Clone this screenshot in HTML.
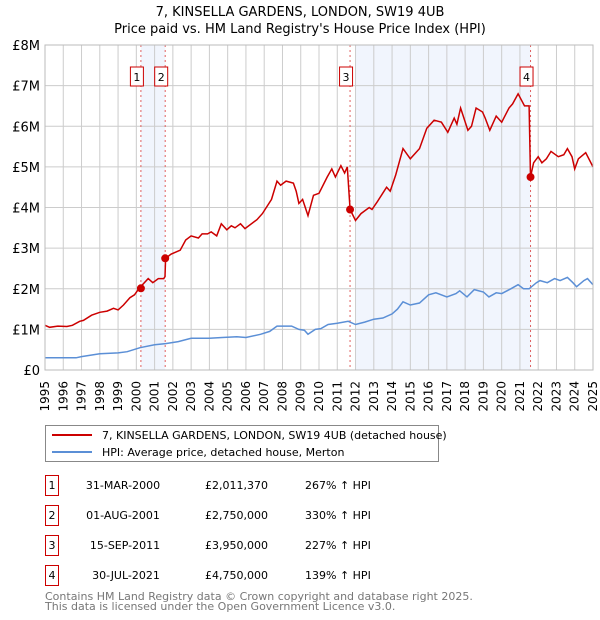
<!DOCTYPE html>
<html><head><meta charset="utf-8"><style>
body{margin:0;background:#fff;font-family:"DejaVu Sans","Liberation Sans",sans-serif;}
svg{display:block}
</style></head><body>
<svg width="600" height="620" xmlns="http://www.w3.org/2000/svg" font-family="DejaVu Sans, Liberation Sans, sans-serif">
<text x="300" y="16" text-anchor="middle" font-size="13">7, KINSELLA GARDENS, LONDON, SW19 4UB</text>
<text x="300" y="33" text-anchor="middle" font-size="13">Price paid vs. HM Land Registry's House Price Index (HPI)</text>
<g id="plot"></g>
<g>
<rect x="45.5" y="425.5" width="393" height="36" fill="#fff" stroke="#888"/>
<line x1="52" y1="435" x2="92" y2="435" stroke="#cc0000" stroke-width="2"/>
<text x="102" y="439" font-size="11">7, KINSELLA GARDENS, LONDON, SW19 4UB (detached house)</text>
<line x1="52" y1="452" x2="92" y2="452" stroke="#5b8fd6" stroke-width="2"/>
<text x="102" y="456" font-size="11">HPI: Average price, detached house, Merton</text>
</g>
<g font-size="11">
<rect x="45.5" y="475.5" width="13" height="20" fill="#fff" stroke="#cc0000"/><text x="52" y="489" text-anchor="middle">1</text>
<text x="123" y="489" text-anchor="middle">31-MAR-2000</text><text x="205" y="489">£2,011,370</text><text x="305" y="489">267% ↑ HPI</text>
<rect x="45.5" y="505.5" width="13" height="20" fill="#fff" stroke="#cc0000"/><text x="52" y="519" text-anchor="middle">2</text>
<text x="123" y="519" text-anchor="middle">01-AUG-2001</text><text x="205" y="519">£2,750,000</text><text x="305" y="519">330% ↑ HPI</text>
<rect x="45.5" y="535.5" width="13" height="20" fill="#fff" stroke="#cc0000"/><text x="52" y="549" text-anchor="middle">3</text>
<text x="125" y="549" text-anchor="middle">15-SEP-2011</text><text x="205" y="549">£3,950,000</text><text x="305" y="549">227% ↑ HPI</text>
<rect x="45.5" y="565.5" width="13" height="20" fill="#fff" stroke="#cc0000"/><text x="52" y="579" text-anchor="middle">4</text>
<text x="126" y="579" text-anchor="middle">30-JUL-2021</text><text x="205" y="579">£4,750,000</text><text x="305" y="579">139% ↑ HPI</text>
</g>
<text x="45" y="600" font-size="11" fill="#777">Contains HM Land Registry data © Crown copyright and database right 2025.</text>
<text x="45" y="610" font-size="11" fill="#777">This data is licensed under the Open Government Licence v3.0.</text>
</svg>
<script>
const yTicks=[0,1,2,3,4,5,6,7,8];
const yTickLabels=["£0","£1M","£2M","£3M","£4M","£5M","£6M","£7M","£8M"];
const xYears=[1995,1996,1997,1998,1999,2000,2001,2002,2003,2004,2005,2006,2007,2008,2009,2010,2011,2012,2013,2014,2015,2016,2017,2018,2019,2020,2021,2022,2023,2024,2025];
const bands=[[2000.25,2001.58],[2012.0,2021.58]];
const saleYears=[2000.25,2001.58,2011.7,2021.58];
const salePrices=[2.011,2.75,3.95,4.75];
const saleLabels=["1","2","3","4"];
const redT=[1995,1995.25,1995.7,1996.2,1996.5,1996.9,1997.1,1997.55,1998,1998.4,1998.75,1999,1999.3,1999.65,1999.9,2000.15,2000.65,2000.9,2001.2,2001.5,2001.57,2001.6,2001.9,2002.4,2002.7,2003,2003.4,2003.6,2003.9,2004.1,2004.4,2004.65,2004.95,2005.2,2005.4,2005.7,2005.95,2006.6,2006.9,2007.4,2007.7,2007.9,2008.2,2008.6,2008.75,2008.9,2009.1,2009.4,2009.7,2010,2010.45,2010.7,2010.9,2011.2,2011.4,2011.55,2011.7,2012,2012.3,2012.75,2012.9,2013.2,2013.7,2013.9,2014.2,2014.6,2015,2015.5,2015.9,2016.3,2016.7,2017.05,2017.4,2017.55,2017.75,2018.15,2018.35,2018.6,2018.95,2019.1,2019.35,2019.7,2020,2020.4,2020.6,2020.9,2021.25,2021.5,2021.58,2021.75,2022,2022.2,2022.45,2022.7,2023.1,2023.4,2023.6,2023.85,2024,2024.2,2024.6,2025];
const redV=[1.1,1.05,1.08,1.07,1.1,1.2,1.22,1.35,1.42,1.45,1.52,1.48,1.6,1.78,1.85,2.01,2.25,2.15,2.25,2.25,2.3,2.75,2.85,2.95,3.2,3.3,3.25,3.35,3.35,3.4,3.3,3.6,3.45,3.55,3.5,3.6,3.48,3.7,3.85,4.2,4.65,4.55,4.65,4.6,4.4,4.1,4.2,3.8,4.3,4.35,4.75,4.95,4.75,5.03,4.85,5.0,3.95,3.68,3.85,4.0,3.95,4.15,4.5,4.4,4.8,5.45,5.2,5.45,5.95,6.15,6.1,5.85,6.2,6.05,6.45,5.9,6.0,6.45,6.35,6.2,5.9,6.25,6.1,6.45,6.55,6.8,6.5,6.5,4.75,5.1,5.25,5.1,5.2,5.38,5.25,5.3,5.45,5.25,4.95,5.2,5.35,5.0];
const hpiT=[1995,1996,1996.7,1997,1998,1999,1999.5,2000.2,2001,2001.6,2002.3,2003,2004,2004.7,2005.5,2006,2006.8,2007.3,2007.7,2008.5,2008.9,2009.2,2009.4,2009.8,2010.1,2010.5,2011,2011.6,2012,2012.5,2013,2013.5,2014,2014.3,2014.6,2015,2015.5,2016,2016.4,2017,2017.5,2017.7,2018.1,2018.5,2019,2019.3,2019.7,2020,2020.5,2020.9,2021.2,2021.5,2021.9,2022.1,2022.5,2022.9,2023.2,2023.6,2023.9,2024.1,2024.5,2024.7,2025];
const hpiV=[0.3,0.3,0.3,0.33,0.4,0.42,0.45,0.55,0.62,0.65,0.7,0.78,0.78,0.8,0.82,0.8,0.88,0.95,1.08,1.08,1.0,0.98,0.88,1.0,1.02,1.12,1.15,1.2,1.12,1.18,1.25,1.28,1.38,1.5,1.68,1.6,1.65,1.85,1.9,1.8,1.88,1.95,1.8,1.98,1.92,1.8,1.9,1.88,2.0,2.1,2.0,2.0,2.15,2.2,2.15,2.25,2.2,2.28,2.15,2.05,2.2,2.25,2.1];

const X0=45,X1=593,Y0=370,Y1=45;
function xs(t){return X0+(t-1995)/30*(X1-X0);}
function ys(v){return Y0-(v/8)*(Y0-Y1);}
const NS="http://www.w3.org/2000/svg";
const g=document.getElementById('plot');
function mk(tag,attrs,parent){const e=document.createElementNS(NS,tag);for(const k in attrs)e.setAttribute(k,attrs[k]);(parent||g).appendChild(e);return e;}

bands.forEach(b=>{
  const r=mk('rect',{x:xs(b[0]),y:Y1,width:xs(b[1])-xs(b[0]),height:Y0-Y1,fill:'#eef3fd',opacity:0.8});
  
  
});
xYears.forEach(y=>{
  const l=mk('line',{x1:xs(y),x2:xs(y),y1:Y1,y2:Y0,stroke:'#cccccc','stroke-width':1});
  
  
  const t=mk('text',{x:0,y:0,'font-size':12,'text-anchor':'end',transform:`translate(${xs(y)+4},${Y0+11}) rotate(-90)`});
  t.textContent=y;
  
  
});
yTicks.forEach((v,i)=>{
  const l=mk('line',{x1:X0,x2:X1,y1:ys(v),y2:ys(v),stroke:'#cccccc','stroke-width':1});
  
  
  const t=mk('text',{x:X0-5,y:ys(v)+5,'font-size':13,'text-anchor':'end'});
  t.textContent=yTickLabels[i];
  
  
});
saleYears.forEach((s,i)=>{
  const l=mk('line',{x1:xs(s),x2:xs(s),y1:Y1,y2:Y0,stroke:'#e06060','stroke-width':1,'stroke-dasharray':'2,3'});
  
  
  const bx=xs(s)-4;
  const r=mk('rect',{x:bx-6.5,y:67,width:13,height:19,fill:'#fff',stroke:'#cc0000'});
  
  
  const t=mk('text',{x:bx,y:81,'font-size':11,'text-anchor':'middle'});
  t.textContent=saleLabels[i];
  
  
});
function path(T,V){return T.map((t,i)=>(i?'L':'M')+xs(t).toFixed(1)+','+ys(V[i]).toFixed(1)).join('');}
const hp=mk('path',{d:path(hpiT,hpiV),fill:'none',stroke:'#5b8fd6','stroke-width':1.5});


const rp=mk('path',{d:path(redT,redV),fill:'none',stroke:'#cc0000','stroke-width':1.5});


saleYears.forEach((s,i)=>{
  const c=mk('circle',{cx:xs(s),cy:ys(salePrices[i]),r:4,fill:'#cc0000'});
  
  
});
const bd=mk('rect',{x:X0,y:Y1,width:X1-X0,height:Y0-Y1,fill:'none',stroke:'#bbbbbb'});


</script>
</body></html>
